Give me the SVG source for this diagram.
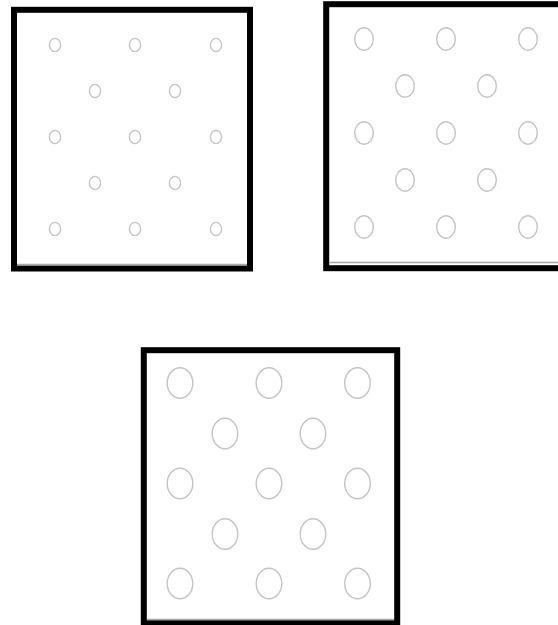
<svg xmlns="http://www.w3.org/2000/svg" width="558" height="625" viewBox="0 0 558 625">
  <style>
    .frame { fill: #ffffff; stroke: #000000; stroke-width: 6; }
    .shade { stroke: #a8a8a8; stroke-width: 1.5; }
    .dot { fill: none; stroke: #c4c4c4; stroke-width: 1.4; }
  </style>
  <rect x="0" y="0" width="558" height="625" fill="#ffffff"/>

  <g id="panel-small">
    <rect class="frame" x="14" y="9.8" width="236" height="258.7"/>
    <line class="shade" x1="17" y1="264.5" x2="247" y2="264.5"/>
    <g class="dot">
      <ellipse cx="55" cy="45" rx="5.6" ry="6.6"/>
      <ellipse cx="135" cy="45" rx="5.6" ry="6.6"/>
      <ellipse cx="216" cy="45" rx="5.6" ry="6.6"/>
      <ellipse cx="95" cy="91" rx="5.6" ry="6.6"/>
      <ellipse cx="175" cy="91" rx="5.6" ry="6.6"/>
      <ellipse cx="55" cy="137" rx="5.6" ry="6.6"/>
      <ellipse cx="135" cy="137" rx="5.6" ry="6.6"/>
      <ellipse cx="216" cy="137" rx="5.6" ry="6.6"/>
      <ellipse cx="95" cy="183" rx="5.6" ry="6.6"/>
      <ellipse cx="175" cy="183" rx="5.6" ry="6.6"/>
      <ellipse cx="55" cy="229" rx="5.6" ry="6.6"/>
      <ellipse cx="135" cy="229" rx="5.6" ry="6.6"/>
      <ellipse cx="216" cy="229" rx="5.6" ry="6.6"/>
    </g>
  </g>

  <g id="panel-medium">
    <rect class="frame" x="326.2" y="4.2" width="250" height="264"/>
    <line class="shade" x1="329" y1="262.5" x2="558" y2="262.5"/>
    <g class="dot">
      <ellipse cx="364" cy="39" rx="9.3" ry="11.2"/>
      <ellipse cx="446" cy="39" rx="9.3" ry="11.2"/>
      <ellipse cx="528" cy="39" rx="9.3" ry="11.2"/>
      <ellipse cx="405" cy="86" rx="9.3" ry="11.2"/>
      <ellipse cx="487" cy="86" rx="9.3" ry="11.2"/>
      <ellipse cx="364" cy="133" rx="9.3" ry="11.2"/>
      <ellipse cx="446" cy="133" rx="9.3" ry="11.2"/>
      <ellipse cx="528" cy="133" rx="9.3" ry="11.2"/>
      <ellipse cx="405" cy="180" rx="9.3" ry="11.2"/>
      <ellipse cx="487" cy="180" rx="9.3" ry="11.2"/>
      <ellipse cx="364" cy="227" rx="9.3" ry="11.2"/>
      <ellipse cx="446" cy="227" rx="9.3" ry="11.2"/>
      <ellipse cx="528" cy="227" rx="9.3" ry="11.2"/>
    </g>
  </g>

  <g id="panel-large">
    <rect class="frame" x="143.8" y="350.2" width="253.4" height="273"/>
    <line class="shade" x1="147" y1="619.5" x2="394" y2="619.5"/>
    <g class="dot">
      <ellipse cx="180" cy="383" rx="12.8" ry="15.3"/>
      <ellipse cx="269" cy="383" rx="12.8" ry="15.3"/>
      <ellipse cx="357.5" cy="383" rx="12.8" ry="15.3"/>
      <ellipse cx="225" cy="433.5" rx="12.8" ry="15.3"/>
      <ellipse cx="313" cy="433.5" rx="12.8" ry="15.3"/>
      <ellipse cx="180" cy="483.5" rx="12.8" ry="15.3"/>
      <ellipse cx="269" cy="483.5" rx="12.8" ry="15.3"/>
      <ellipse cx="357.5" cy="483.5" rx="12.8" ry="15.3"/>
      <ellipse cx="225" cy="534" rx="12.8" ry="15.3"/>
      <ellipse cx="313" cy="534" rx="12.8" ry="15.3"/>
      <ellipse cx="180" cy="583.5" rx="12.8" ry="15.3"/>
      <ellipse cx="269" cy="583.5" rx="12.8" ry="15.3"/>
      <ellipse cx="357.5" cy="583.5" rx="12.8" ry="15.3"/>
    </g>
  </g>
</svg>
